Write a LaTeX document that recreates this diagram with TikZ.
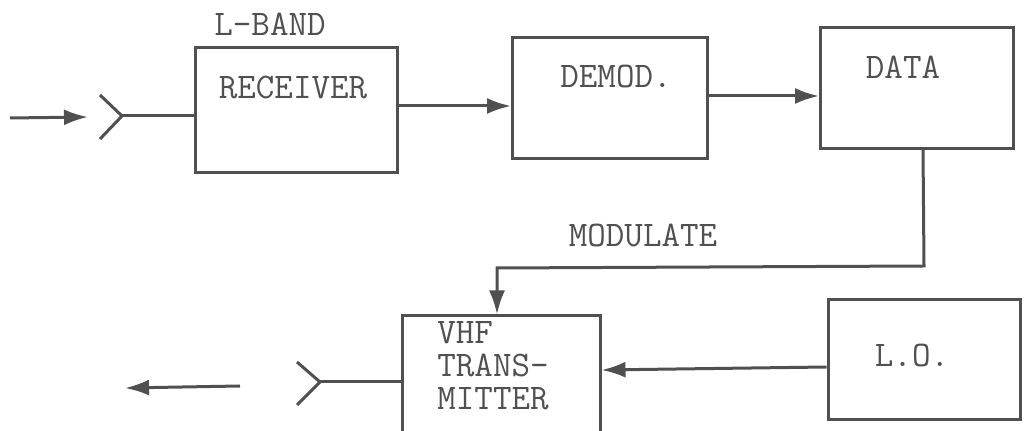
\documentclass[tikz,border=0pt]{standalone}
\usetikzlibrary{arrows.meta}
\definecolor{ink}{HTML}{505050}
\begin{document}
\begin{tikzpicture}[x=0.5pt,y=-0.5pt,
  box/.style={draw=ink,line width=1.5pt,minimum width=#1,inner sep=0pt},
  lbl/.style={text=ink,font=\ttfamily\fontsize{18}{18}\selectfont,inner sep=0pt},
  vline/.style={lbl,anchor=base west,text depth=0pt,text height=11pt},
  wire/.style={draw=ink,line width=1.5pt},
  arr/.style={wire,-{Latex[length=12pt,width=8pt]}}]
\useasboundingbox (0,0) rectangle (1026,431);
% boxes
\node[box=101pt,minimum height=62.5pt] (rec) at (296,110) {};
\node[box=97.5pt,minimum height=60.5pt] (dem) at (610,98) {};
\node[box=96.5pt,minimum height=60.5pt] (dat) at (917,88) {};
\node[box=99pt,minimum height=64pt] (vhf) at (501,380) {};
\node[box=96pt,minimum height=60pt] (lo) at (924,360) {};
% texts
\node[lbl] (tband) at (270,24) {L-BAND};
\node[lbl] (trec) at (293,88) {RECEIVER};
\node[lbl] (tdem) at (616,77) {DEMOD.};
\node[lbl] (tdat) at (903,67) {DATA};
\node[lbl] (tlo) at (912,356) {L.O.};
\node[lbl] (tmod) at (643,235) {MODULATE};
\node[vline] (tvhf1) at (437,344) {VHF};
\node[vline] (tvhf2) at (437,377) {TRANS-};
\node[vline] (tvhf3) at (437,410) {MITTER};
% input antenna
\coordinate (f1) at (122,116);
\coordinate (a1) at (100,95);
\coordinate (b1) at (100,139);
\coordinate (i1) at (10,118);
\coordinate (i2) at (88,117);
\draw[wire] (a1) -- (f1) -- (b1);
\draw[wire] (f1) -- (rec.west |- f1);
\draw[arr] (i1) -- (i2);
% chain
\draw[arr] (rec.east |- 0,106) -- (dem.west |- 0,106);
\draw[arr] (dem.east |- 0,96) -- (dat.west |- 0,96);
% modulate path
\coordinate (m0) at (923,148);
\coordinate (m1) at (924,266);
\coordinate (m2) at (497,268);
\draw[arr] (dat.south -| m0) -- (m1) -- (m2) -- (vhf.north -| m2);
% LO to VHF
\draw[arr] (lo.west |- 0,367) -- (vhf.east |- 0,370);
% output antenna
\coordinate (f2) at (320,382);
\coordinate (a2) at (297,362);
\coordinate (b2) at (297,405);
\coordinate (o1) at (240,386);
\coordinate (o2) at (125,388);
\draw[wire] (a2) -- (f2) -- (b2);
\draw[wire] (f2) -- (vhf.west |- f2);
\draw[arr] (o1) -- (o2);
\end{tikzpicture}
\end{document}
